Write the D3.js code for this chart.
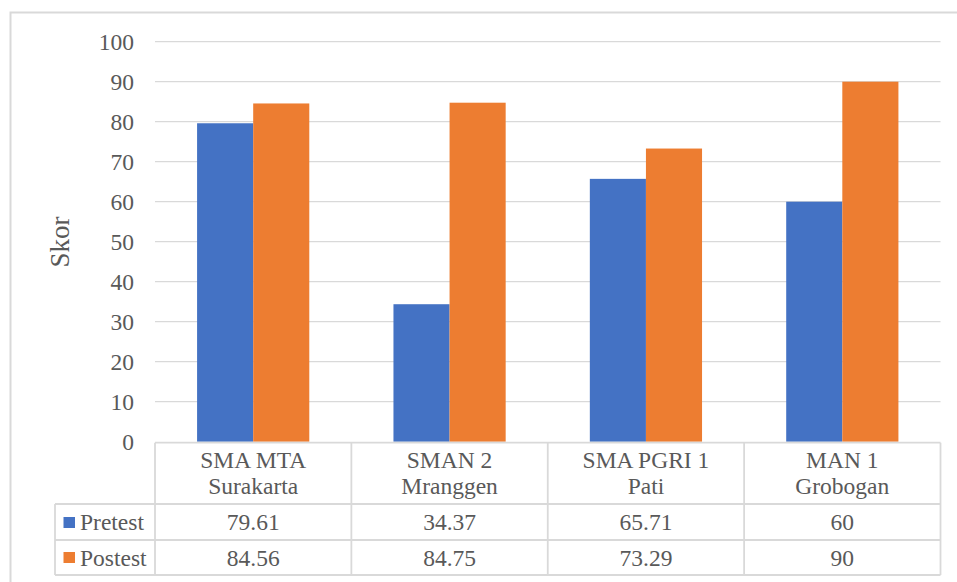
<!DOCTYPE html>
<html><head><meta charset="utf-8">
<script src="https://cdn.jsdelivr.net/npm/d3@7"></script>
<style>body{margin:0;background:#fff}svg{display:block}</style>
</head><body>
<script>
const categories = [["SMA MTA","Surakarta"],["SMAN 2","Mranggen"],["SMA PGRI 1","Pati"],["MAN 1","Grobogan"]];
const seriesNames = ["Pretest","Postest"];
const pretest = [79.61, 34.37, 65.71, 60];
const postest = [84.56, 84.75, 73.29, 90];
const valueLabels = [["79.61","34.37","65.71","60"],["84.56","84.75","73.29","90"]];
const yTicks = [0,10,20,30,40,50,60,70,80,90,100];
const colors = ["#4472C4","#ED7D31"];
const yTitle = "Skor";

(function(){
const W = 957, H = 582;
const FONT = "'Liberation Serif', 'Times New Roman', Tinos, 'DejaVu Serif', serif";
const svg = d3.select("body").append("svg").attr("width", W).attr("height", H)
  .style("font-family", FONT);
const grid = "#D9D9D9";
const txt = "#595959";
const fs = 23.5;

// outer chart border
svg.append("rect").attr("x",10.5).attr("y",12.5).attr("width",980).attr("height",600)
  .attr("fill","none").attr("stroke",grid).attr("stroke-width",2);

const pL = 155, pR = 940.5, pT = 41.7, pB = 441.7;
const y = d3.scaleLinear().domain([0,100]).range([pB, pT]);
const catIdx = categories.map((d,i)=>i);
const x0 = d3.scaleBand().domain(catIdx).range([pL, pR]).paddingInner(0).paddingOuter(0);
const x1 = d3.scaleBand().domain([0,1]).range([0, x0.bandwidth()]).paddingInner(0).paddingOuter(0.75);

// gridlines
svg.append("g").selectAll("line").data(yTicks.filter(t=>t>0)).join("line")
  .attr("x1",pL).attr("x2",pR).attr("y1",d=>y(d)).attr("y2",d=>y(d))
  .attr("stroke",grid).attr("stroke-width",1.3);

// y tick labels via axis
const yAxis = d3.axisLeft(y).tickValues(yTicks).tickSize(0).tickPadding(0).tickFormat(d3.format("d"));
const ga = svg.append("g").attr("transform",`translate(134,0)`).call(yAxis);
ga.attr("font-family", FONT).attr("font-size", fs);
ga.select(".domain").remove();
ga.selectAll("text").style("font-family",FONT).attr("fill",txt).attr("dy","0.35em");

// axis title
svg.append("text").attr("transform","translate(69,242) rotate(-90)").attr("text-anchor","middle")
  .style("font-family",FONT).attr("fill",txt).attr("font-size",27).text(yTitle);

// bars
const series = [pretest, postest];
series.forEach((vals, s) => {
  svg.append("g").selectAll("rect").data(vals).join("rect")
    .attr("x",(d,i)=>x0(i)+x1(s)).attr("width",x1.bandwidth())
    .attr("y",d=>y(d)).attr("height",d=>y(0)-y(d)).attr("fill",colors[s]);
});

// data table
const hdrBottom = 504, row1Bottom = 540, row2Bottom = 575, legLeft = 55;
const tl = svg.append("g").attr("stroke",grid).attr("stroke-width",1.8).attr("fill","none");
const lines = [
  [pL, pB+1, pR, pB+1],
  [legLeft, hdrBottom, pR, hdrBottom],
  [legLeft, row1Bottom, pR, row1Bottom],
  [legLeft, row2Bottom, pR, row2Bottom],
  [legLeft, hdrBottom, legLeft, row2Bottom]
];
catIdx.forEach(i => lines.push([x0(i), pB+1, x0(i), row2Bottom]));
lines.push([pR, pB+1, pR, row2Bottom]);
tl.selectAll("line").data(lines).join("line")
  .attr("x1",d=>d[0]).attr("y1",d=>d[1]).attr("x2",d=>d[2]).attr("y2",d=>d[3]);

// header labels
categories.forEach((c,i)=>{
  const cx = x0(i)+x0.bandwidth()/2;
  const t = svg.append("text").attr("text-anchor","middle").attr("font-size",fs)
    .style("font-family",FONT).attr("fill",txt);
  c.forEach((ln,k)=> t.append("tspan").attr("x", cx).attr("y",468+26*k).text(ln));
});

// rows
const rowBase = [530, 565.5];
const rowSq = [517, 552];
seriesNames.forEach((n,s)=>{
  svg.append("rect").attr("x",63.5).attr("y",rowSq[s]).attr("width",11.5).attr("height",11).attr("fill",colors[s]);
  svg.append("text").attr("x",80).attr("y",rowBase[s]).attr("font-size",fs)
    .style("font-family",FONT).attr("fill",txt).text(n);
  svg.append("g").selectAll("text").data(valueLabels[s]).join("text")
    .attr("text-anchor","middle").attr("font-size",fs).style("font-family",FONT).attr("fill",txt)
    .attr("x",(d,i)=>x0(i)+x0.bandwidth()/2).attr("y",rowBase[s]).text(d=>d);
});
})();
</script>
</body></html>
